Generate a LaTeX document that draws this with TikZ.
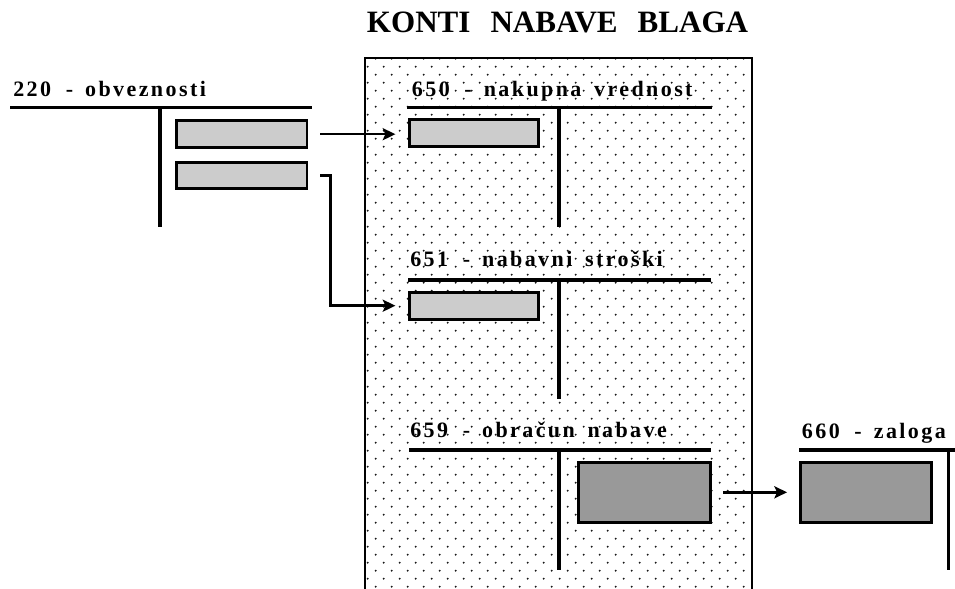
\documentclass[tikz,border=0pt]{standalone}
\usepackage{fontspec}
\setmainfont{Liberation Serif}
\newfontfamily\acctfont[LetterSpace=11]{Liberation Serif Bold}
\usetikzlibrary{arrows.meta}
% spacing inside the account headings
\newcommand\ngap{\hspace{11pt}}
\newcommand\dgap{\hspace{9pt}}
\newcommand\wgap{\hspace{9.5pt}}
\begin{document}
\begin{tikzpicture}[x=0.75pt,y=-0.75pt,
  tline/.style={line width=2.3pt},
  box/.style={draw, line width=2.2pt, fill=black!20, inner sep=0pt},
  darkbox/.style={box, fill=black!40},
  dim/.style 2 args={minimum width=#1*0.75pt, minimum height=#2*0.75pt},
  acct/.style={anchor=base west, inner sep=0pt, font=\acctfont\fontsize{16.5}{18}\selectfont},
  conn/.style={line width=1.9pt, -{Stealth[length=9.5pt,width=9pt,inset=2pt]},
               shorten <=8.8pt, shorten >=9.2pt}]

\useasboundingbox (0,0) rectangle (955,588);

% title
\node[anchor=base west, inner sep=0pt, font=\bfseries\fontsize{23.3}{25}\selectfont]
  (title) at (366.7,32.3) {KONTI\hspace{15pt}NABAVE\hspace{15pt}BLAGA};

% dotted area holding the procurement accounts
\begin{scope}
  \clip (366,59) rectangle (750.7,588);
  \foreach \j in {0,...,33} {
    \foreach \k in {0,...,23} {
      \fill[black!90] (375.7+16*\k, 58.7+16*\j) circle (0.8pt);
      \fill[black!90] (367.7+16*\k, 66.7+16*\j) circle (0.8pt);
    }
  }
\end{scope}
\draw[line width=1.4pt] (365,58.3) rectangle (751.7,620);

% account 220
\node[acct] (l220) at (13,96.7) {220\ngap-\dgap obveznosti};
\draw[tline] (10,107.5) -- (312,107.5);
\draw[tline] (160,107.5) -- (160,226.7);
\node[box, dim={130.5}{26.5}] (a1) at (241.75,134.2) {};
\node[box, dim={130.5}{26.5}] (a2) at (241.75,175.3) {};

% account 650
\node[acct] (l650) at (411.7,96.7) {650\ngap-\dgap nakupna\wgap vrednost};
\draw[tline] (407,107.7) -- (712,107.7);
\draw[tline] (559,107.7) -- (559,226.7);
\node[box, dim={129.3}{27}] (b650) at (473.8,133.3) {};

% account 651
\node[acct] (l651) at (410,266.7) {651\ngap-\dgap nabavni\wgap stroški};
\draw[tline] (408,280) -- (710.7,280);
\draw[tline] (559,280) -- (559,399.3);
\node[box, dim={129.3}{27}] (b651) at (473.8,305.7) {};

% account 659
\node[acct] (l659) at (410,437) {659\ngap-\dgap obračun\wgap nabave};
\draw[tline] (409,450) -- (710.7,450);
\draw[tline] (559,450) -- (559,570);
\node[darkbox, dim={131.4}{60.3}] (b659) at (644.5,492.3) {};

% account 660
\node[acct] (l660) at (801.7,438) {660\ngap-\dgap zaloga};
\draw[tline] (799,450) -- (958,450);
\draw[tline] (948.3,450) -- (948.3,570);
\node[darkbox, dim={130.4}{60.3}] (b660) at (866,492.3) {};

% postings
\coordinate (kink) at (330.7,0);
\draw[conn] (a1.east) -- (a1.east -| b650.west);
\draw[conn] (a2.east) -- (a2.east -| kink) |- (b651.west);
\draw[conn] (b659.east) -- (b660.west);
\end{tikzpicture}
\end{document}
